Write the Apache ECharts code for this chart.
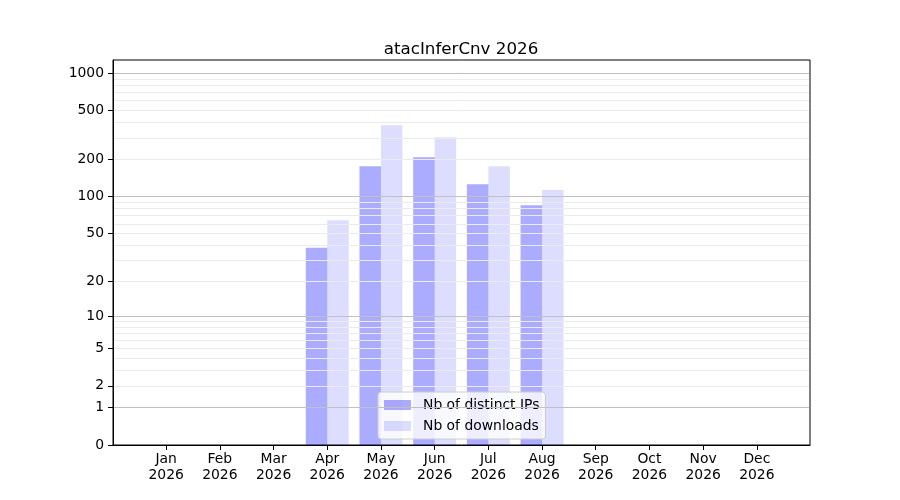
<!DOCTYPE html>
<html style="height: 100%">
  <head>
    <meta charset="UTF-8" />
    <title>atacInferCnv 2026</title>
    <script src="https://cdn.jsdelivr.net/npm/echarts@6/dist/echarts.min.js"></script>
  </head>
  <body style="height: 100%; margin: 0; background: #fff">
    <div id="main" style="width: 900px; height: 500px"></div>
    <script>
      const chart = echarts.init(document.getElementById('main'))

      const months = ['Jan', 'Feb', 'Mar', 'Apr', 'May', 'Jun', 'Jul', 'Aug', 'Sep', 'Oct', 'Nov', 'Dec']
      const year = '2026'
      const distinctIps = [0, 0, 0, 38, 177, 209, 126, 85, 0, 0, 0, 0]
      const downloads = [0, 0, 0, 64, 380, 304, 177, 113, 0, 0, 0, 0]
      const yTicks = [0, 1, 2, 5, 10, 20, 50, 100, 200, 500, 1000]
      const majorGrid = [1, 10, 100, 1000]
      const minorGrid = [2, 3, 4, 5, 6, 7, 8, 9, 20, 30, 40, 50, 60, 70, 80, 90, 200, 300, 400, 500, 600, 700, 800, 900]

      // symlog-like scale: y = log10(v + 1)
      const tf = (v) => Math.log10(v + 1)
      const font = 'DejaVu Sans'
      const xMin = 0.01
      const xMax = 12.99
      const unitPx = 697 / (xMax - xMin)
      const barPx = 0.4 * unitPx
      const pad = 1 / unitPx // keep grid lines off the frame

      const monthPos = months.map((m, i) => i + 1)

      const gridLine = (v, color) => [
        { coord: [xMin + pad, tf(v)], lineStyle: { color: color, width: 1, type: 'solid' } },
        { coord: [xMax - pad, tf(v)] },
      ]

      const option = {
        animation: false,
        backgroundColor: '#fff',
        title: {
          text: 'atacInferCnv ' + year,
          left: 456,
          textAlign: 'center',
          top: 36,
          textStyle: { fontFamily: font, fontSize: 16.7, fontWeight: 'normal', color: '#000' },
        },
        legend: {
          orient: 'vertical',
          left: 378,
          top: 392,
          padding: [6, 6, 6, 6],
          itemWidth: 27,
          itemHeight: 10,
          itemGap: 7,
          icon: 'rect',
          backgroundColor: 'rgba(255,255,255,0.8)',
          borderColor: '#cccccc',
          borderWidth: 1,
          borderRadius: 3,
          textStyle: { fontFamily: font, fontSize: 13.9, color: '#000', padding: [0, 0, 0, 7] },
          data: ['Nb of distinct IPs', 'Nb of downloads'],
        },
        grid: {
          left: 113,
          right: 90,
          top: 60,
          bottom: 55,
          show: true,
          borderColor: '#000',
          borderWidth: 1,
          backgroundColor: 'transparent',
        },
        xAxis: {
          type: 'value',
          min: xMin,
          max: xMax,
          splitLine: { show: false },
          axisLine: { show: true, onZero: false, lineStyle: { color: '#000' } },
          axisTick: { show: true, length: 5, customValues: monthPos, lineStyle: { color: '#000' } },
          axisLabel: {
            customValues: monthPos,
            margin: 6,
            fontFamily: font,
            fontSize: 13.9,
            lineHeight: 16,
            color: '#000',
            formatter: (v) => months[Math.round(v) - 1] + '\n' + year,
          },
        },
        yAxis: {
          type: 'value',
          min: 0,
          max: 3.107,
          splitLine: { show: false },
          axisLine: { show: true, lineStyle: { color: '#000' } },
          axisTick: { show: true, length: 5, customValues: yTicks.map(tf), lineStyle: { color: '#000' } },
          axisLabel: {
            customValues: yTicks.map(tf),
            margin: 9,
            fontFamily: font,
            fontSize: 13.9,
            color: '#000',
            formatter: (v) => String(Math.round(Math.pow(10, v) - 1)),
          },
        },
        series: [
          {
            type: 'line',
            data: [],
            silent: true,
            z: 1,
            markLine: {
              silent: true,
              symbol: ['none', 'none'],
              label: { show: false },
              emphasis: { disabled: true },
              animation: false,
              data: minorGrid
                .map((v) => gridLine(v, '#ebebeb'))
                .concat(majorGrid.map((v) => gridLine(v, '#c0c0c0'))),
            },
          },
          {
            name: 'Nb of distinct IPs',
            type: 'bar',
            barWidth: barPx,
            barGap: '0%',
            z: 2,
            itemStyle: { color: 'rgba(0,0,255,0.33)', borderWidth: 0, borderColor: 'transparent' },
            emphasis: { disabled: true },
            data: distinctIps.map((v, i) => [monthPos[i], tf(v)]),
          },
          {
            name: 'Nb of downloads',
            type: 'bar',
            barWidth: barPx,
            barGap: '0%',
            z: 2,
            itemStyle: { color: 'rgba(0,0,255,0.135)', borderWidth: 0, borderColor: 'transparent' },
            emphasis: { disabled: true },
            data: downloads.map((v, i) => [monthPos[i], tf(v)]),
          },
        ],
      }

      chart.setOption(option)
    </script>
  </body>
</html>
